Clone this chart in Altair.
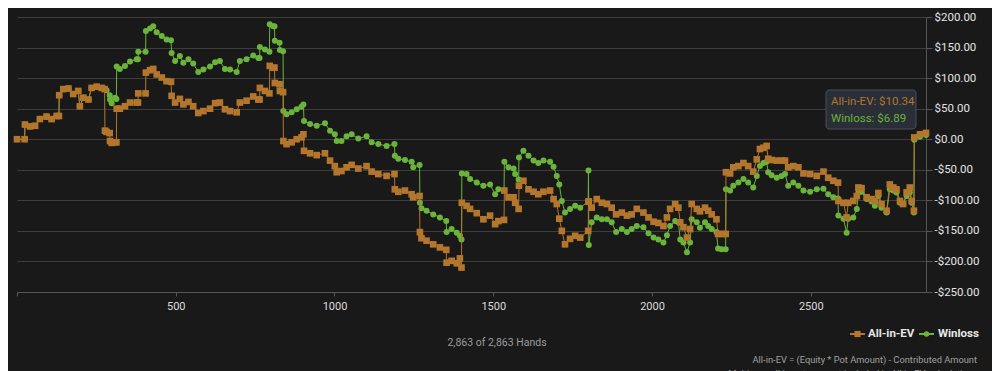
import altair as alt
import pandas as pd

# ---------------- data ----------------
HANDS = [0, 24, 25, 41, 57, 72, 93, 109, 125, 132, 133, 146, 162, 177, 193, 198, 209, 225, 235, 251,
         267, 276, 277, 282, 292, 293, 298, 309, 313, 314, 324, 340, 356, 377, 381, 382, 405, 406, 419, 429,
         440, 456, 471, 485, 487, 498, 513, 524, 540, 555, 571, 587, 608, 624, 639, 655, 671, 692, 702, 723,
         744, 760, 764, 765, 781, 795, 796, 807, 811, 812, 827, 828, 838, 839, 849, 865, 881, 896, 902, 904,
         923, 944, 970, 986, 1001, 1007, 1022, 1038, 1054, 1075, 1101, 1117, 1138, 1164, 1189, 1190, 1201, 1222, 1243, 1248,
         1268, 1269, 1274, 1290, 1311, 1332, 1352, 1353, 1369, 1385, 1395, 1400, 1401, 1416, 1427, 1448, 1469, 1490, 1506, 1516,
         1534, 1535, 1548, 1564, 1569, 1580, 1581, 1595, 1611, 1627, 1642, 1658, 1679, 1690, 1700, 1708, 1716, 1726, 1742, 1758,
         1774, 1799, 1800, 1801, 1810, 1826, 1842, 1858, 1873, 1887, 1905, 1921, 1936, 1952, 1973, 1989, 2005, 2020, 2036, 2047,
         2057, 2073, 2083, 2089, 2099, 2110, 2120, 2125, 2141, 2151, 2167, 2177, 2188, 2203, 2208, 2219, 2232, 2233, 2246, 2256,
         2272, 2288, 2303, 2319, 2330, 2340, 2351, 2361, 2366, 2377, 2393, 2408, 2419, 2429, 2445, 2461, 2477, 2498, 2519, 2540,
         2555, 2571, 2586, 2587, 2603, 2613, 2618, 2634, 2645, 2650, 2660, 2676, 2692, 2702, 2713, 2723, 2739, 2749, 2760, 2770,
         2781, 2791, 2802, 2812, 2818, 2825, 2826, 2844, 2863]

ALL_IN_EV = [0, 0, 24, 21, 22, 33, 37, 33, 38, 38, 72, 82, 83, 74, 79, 54, 68, 65, 84, 86,
             84, 82, 14, 12, 10, -3, -6, -5, -5, 50, 50, 54, 60, 60, 60, 75, 75, 109, 113, 115,
             106, 101, 95, 94, 71, 60, 66, 57, 61, 54, 43, 46, 50, 59, 60, 49, 46, 44, 60, 63,
             70, 65, 65, 84, 79, 75, 120, 117, 117, 92, 90, 79, 77, -3, -8, -5, 0, 3, 8, -19,
             -23, -26, -23, -35, -44, -54, -52, -46, -42, -48, -44, -53, -57, -60, -57, -82, -86, -84, -90, -95,
             -93, -152, -162, -166, -172, -177, -181, -202, -199, -203, -195, -210, -104, -109, -114, -121, -131, -125, -139, -134,
             -132, -84, -95, -95, -104, -114, -76, -68, -82, -86, -90, -86, -84, -98, -106, -130, -150, -172, -163, -158,
             -161, -150, -102, -102, -112, -98, -104, -106, -112, -123, -120, -125, -123, -114, -120, -128, -135, -137, -142, -128,
             -114, -106, -112, -136, -144, -161, -147, -106, -114, -118, -112, -117, -123, -131, -155, -155, -155, -54, -56, -46,
             -44, -39, -44, -53, -33, -16, -14, -11, -32, -34, -35, -35, -35, -46, -44, -46, -56, -57, -60, -53,
             -63, -68, -71, -101, -104, -128, -104, -101, -93, -79, -80, -95, -98, -101, -88, -106, -117, -74, -79, -82,
             -101, -106, -87, -79, -101, -117, 3, 8, 10.34]

WINLOSS = [0, 0, 24, 21, 22, 33, 37, 33, 38, 38, 72, 82, 83, 74, 79, 54, 68, 65, 84, 86,
           84, 82, 82, 80, 72, 65, 59, 68, 66, 119, 115, 120, 127, 131, 131, 143, 143, 177, 181, 185,
           175, 169, 163, 162, 141, 128, 136, 125, 131, 124, 110, 114, 119, 126, 128, 115, 114, 110, 128, 131,
           137, 133, 133, 151, 147, 143, 188, 185, 185, 161, 158, 146, 144, 46, 41, 44, 49, 53, 57, 30,
           25, 22, 26, 14, 8, -3, -3, 5, 8, 1, 5, -5, -8, -11, -8, -27, -32, -34, -37, -46,
           -42, -104, -113, -117, -123, -128, -134, -152, -147, -153, -158, -164, -56, -57, -65, -71, -76, -74, -90, -82,
           -84, -37, -46, -48, -57, -66, -30, -19, -27, -35, -39, -35, -37, -45, -60, -74, -101, -120, -114, -109,
           -112, -102, -51, -173, -136, -128, -131, -131, -136, -152, -147, -152, -147, -142, -144, -154, -161, -164, -169, -157,
           -142, -134, -136, -164, -169, -185, -169, -131, -136, -145, -136, -142, -147, -152, -179, -180, -180, -82, -84, -76,
           -71, -65, -71, -79, -60, -44, -39, -37, -54, -59, -63, -60, -57, -76, -71, -76, -84, -86, -82, -81,
           -90, -95, -97, -125, -130, -153, -130, -128, -114, -87, -86, -98, -102, -109, -93, -112, -120, -82, -84, -87,
           -104, -106, -93, -87, -104, -120, -1, 4, 6.89]

SERIES = ["All-in-EV", "Winloss"]
TOTAL_HANDS = 2863
X_TICKS = [0, 500, 1000, 1500, 2000, 2500]
Y_TICKS = [-250, -200, -150, -100, -50, 0, 50, 100, 150, 200]
NOTE_1 = "All-in-EV = (Equity * Pot Amount) - Contributed Amount"
NOTE_2 = "Multi-way all-in pots are not included in All-in-EV calculation"

# ---------------- styling ----------------
BG = "#191919"
ORANGE = "#b3762c"
GREEN = "#6ab43c"
FONT = "Roboto"
W, H = 909, 275

df = pd.DataFrame({"hand": HANDS, "ev": ALL_IN_EV, "wl": WINLOSS})

x_enc = alt.X(
    "hand:Q",
    title=None,
    scale=alt.Scale(domain=[0, TOTAL_HANDS], nice=False, zero=False),
    axis=alt.Axis(values=X_TICKS, tickCount=len(X_TICKS), grid=False,
                  labelExpr="datum.value == 0 ? '' : '' + datum.value",
                  tickSize=4, labelPadding=4, labelFontSize=11, labelColor="#dcdcdc",
                  domainColor="#555555", tickColor="#555555", labelOverlap=False),
)
y_axis = alt.Axis(values=Y_TICKS, tickCount=len(Y_TICKS), orient="right", grid=True,
                  gridColor="#3d3d3d", gridWidth=1,
                  labelExpr="(datum.value < 0 ? '-' : '') + '$' + format(abs(datum.value), ',.2f')",
                  tickSize=6, labelPadding=2, labelFontSize=11.5, labelColor="#e4e4e4",
                  domainColor="#555555", tickColor="#555555", labelOverlap=False, labelBound=False,
                  labelFlush=False)
y_scale = alt.Scale(domain=[-250, 200], nice=False, zero=False)

base = alt.Chart(df)
wl_line = base.mark_line(color=GREEN, strokeWidth=1).encode(
    x=x_enc, y=alt.Y("wl:Q", title=None, scale=y_scale, axis=y_axis))
wl_pts = base.mark_point(shape="circle", filled=True, size=36, color=GREEN, opacity=1).encode(
    x="hand:Q", y="wl:Q")
ev_line = base.mark_line(color=ORANGE, strokeWidth=1).encode(x="hand:Q", y="ev:Q")
ev_pts = base.mark_point(shape="square", filled=True, size=44, color=ORANGE, opacity=1).encode(
    x="hand:Q", y="ev:Q")


def one(text):
    return alt.Chart(pd.DataFrame({"t": [text]}))


def label(text, px, py, color, size, weight="normal", align="left"):
    return one(text).mark_text(align=align, baseline="middle", color=color, fontSize=size,
                               fontWeight=weight, font=FONT).encode(
        x=alt.value(px), y=alt.value(py), text="t:N")


# tooltip box (hover on last hand)
tip_box = one("tip").mark_rect(fill="#2a2e36", stroke="#4a4f59", strokeWidth=1, cornerRadius=3).encode(
    x=alt.value(809), x2=alt.value(899), y=alt.value(73), y2=alt.value(112))
tip_ev = label(f"{SERIES[0]}: ${ALL_IN_EV[-1]:.2f}", 814, 85, ORANGE, 11.5)
tip_wl = label(f"{SERIES[1]}: ${WINLOSS[-1]:.2f}", 814, 102, GREEN, 11.5)

# legend
leg_ev_line = one("a").mark_rule(color=ORANGE, strokeWidth=2).encode(
    x=alt.value(833), x2=alt.value(848), y=alt.value(317))
leg_ev_pt = one("a").mark_point(shape="square", filled=True, size=38, color=ORANGE, opacity=1).encode(
    x=alt.value(840.5), y=alt.value(317))
leg_ev_txt = label(SERIES[0], 851, 317, "#e8e8e8", 11.5, "bold")
leg_wl_line = one("b").mark_rule(color=GREEN, strokeWidth=2).encode(
    x=alt.value(902), x2=alt.value(917), y=alt.value(317))
leg_wl_pt = one("b").mark_point(shape="circle", filled=True, size=30, color=GREEN, opacity=1).encode(
    x=alt.value(909.5), y=alt.value(317))
leg_wl_txt = label(SERIES[1], 921, 317, "#e8e8e8", 11.5, "bold")

count_txt = label(f"{TOTAL_HANDS:,} of {TOTAL_HANDS:,} Hands", 480, 326, "#9c9c9c", 10.5, align="center")
note1 = label(NOTE_1, 960, 343, "#a0a0a0", 9.3, align="right")
note2 = label(NOTE_2, 956, 357, "#a0a0a0", 9.3, align="right")

chart = alt.layer(
    wl_line, wl_pts, ev_line, ev_pts,
    tip_box, tip_ev, tip_wl,
    leg_ev_line, leg_ev_pt, leg_ev_txt, leg_wl_line, leg_wl_pt, leg_wl_txt,
    count_txt, note1, note2,
).properties(
    width=W, height=H,
    autosize=alt.AutoSizeParams(type="none"),
    padding={"left": 9, "top": 9, "right": 66, "bottom": 79},
    background=BG,
).configure_view(
    stroke=None
).configure_axis(
    labelFont=FONT
)

chart.save("out.html", embed_options={"renderer": "svg", "actions": False})
